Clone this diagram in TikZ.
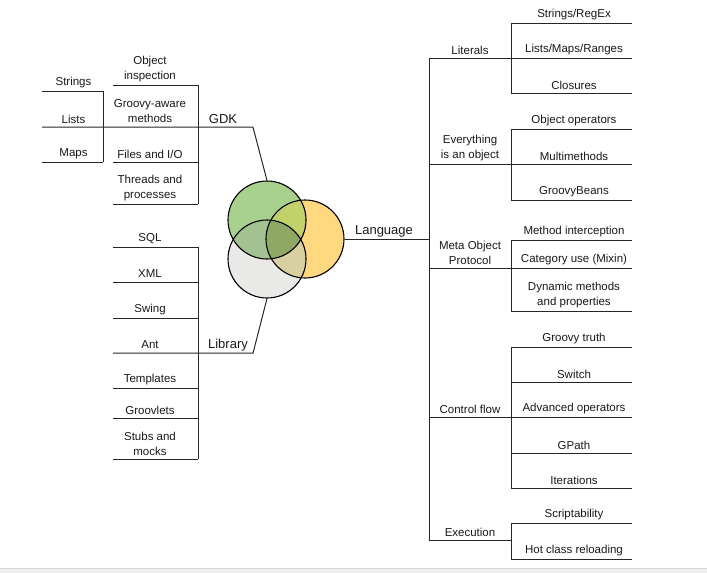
\documentclass[tikz,border=0pt]{standalone}
\usepackage{fontspec}
\setmainfont{Liberation Sans}

\definecolor{cgreen}{RGB}{169,209,142}
\definecolor{corange}{RGB}{255,216,128}
\definecolor{cgray}{RGB}{233,233,232}
\definecolor{cgo}{RGB}{194,210,106}
\definecolor{cgg}{RGB}{163,194,146}
\definecolor{cog}{RGB}{216,208,160}
\definecolor{call}{RGB}{143,168,100}

\begin{document}
\begin{tikzpicture}[x=1pt, y=-1pt]
		\tikzset{it/.style={font=\fontsize{11.5}{15}\selectfont, text=black!90, align=center, inner sep=0, minimum height=16, yshift=-2},
			it2/.style={it, minimum height=31},
			hd/.style={it, font=\fontsize{13}{15}\selectfont},
			ln/.style={draw=black!85, line width=1pt},
			ring/.style={circle, draw=black, line width=1.1pt, minimum size=78, inner sep=0}};

		\useasboundingbox (0,0) rectangle (707,573);
		\fill[black!6] (0,568) rectangle (707,573);
		\draw[black!15] (0,568) -- (707,568);

		% columns
		\coordinate (a1) at (42,0);
		\coordinate (a2) at (103,0);
		\coordinate (m1) at (113,0);
		\coordinate (m2) at (198,0);
		\coordinate (kn) at (253,0);
		\coordinate (l1) at (429,0);
		\coordinate (l2) at (511,0);
		\coordinate (l3) at (632,0);

		% circles
		\coordinate (cg) at (267,220);
		\coordinate (cy) at (267,259);
		\coordinate (co) at (305,239);
		\fill[cgray] (cy) circle (39);
		\fill[corange] (co) circle (39);
		\fill[cgreen] (cg) circle (39);
		\begin{scope}
			\clip (cg) circle (39);
			\fill[cgo] (co) circle (39);
			\fill[cgg] (cy) circle (39);
		\end{scope}
		\begin{scope}
			\clip (co) circle (39);
			\fill[cog] (cy) circle (39);
		\end{scope}
		\begin{scope}
			\clip (cg) circle (39);
			\clip (co) circle (39);
			\fill[call] (cy) circle (39);
		\end{scope}
		\node[ring] (gray) at (cy) {};
		\node[ring] (orange) at (co) {};
		\node[ring] (green) at (cg) {};

		% headings
		\node[hd] (gdk) at (223, 117) {GDK};
		\node[hd] (lib) at (228, 343) {Library};
		\node[hd] (lang) at (384, 229) {Language};

		% GDK
		\node[it] (str) at (73.5, 81) {Strings};
		\node[it] (lis) at (73.5, 117) {Lists};
		\node[it] (map) at (73.5, 152) {Maps};

		\node[it2] (oi) at (150, 67.5) {Object\\inspection};
		\node[it2] (gam) at (150, 109.5) {Groovy-aware\\methods};
		\node[it] (fio) at (150, 152) {Files and I/O};
		\node[it2] (tp) at (150, 186.5) {Threads and\\processes};

		% Library
		\node[it] (sql) at (150, 237) {SQL};
		\node[it] (xml) at (150, 272) {XML};
		\node[it] (swi) at (150, 308) {Swing};
		\node[it] (ant) at (150, 343) {Ant};
		\node[it] (tpl) at (150, 378) {Templates};
		\node[it] (grl) at (150, 408) {Groovlets};
		\node[it2] (sm) at (150, 441.5) {Stubs and\\mocks};

		% Language
		\node[it] (lit) at (470, 48) {Literals};
		\node[it2] (eao) at (470, 146.5) {Everything\\is an object};
		\node[it2] (mop) at (470, 250.5) {Meta Object\\Protocol};
		\node[it] (cf) at (470, 407) {Control flow};
		\node[it] (exe) at (470, 530) {Execution};

		\node[it] (sre) at (574, 13) {Strings/RegEx};
		\node[it] (lmr) at (574, 48) {Lists/Maps/Ranges};
		\node[it] (clo) at (574, 83) {Closures};

		\node[it] (oo) at (574, 119) {Object operators};
		\node[it] (mm) at (574, 154) {Multimethods};
		\node[it] (gb) at (574, 190) {GroovyBeans};

		\node[it] (mi) at (574, 230) {Method interception};
		\node[it] (cu) at (574, 258) {Category use (Mixin)};
		\node[it2] (dm) at (574, 293.5) {Dynamic methods\\and properties};

		\node[it] (gt) at (574, 337) {Groovy truth};
		\node[it] (sw) at (574, 372) {Switch};
		\node[it] (ao) at (574, 407) {Advanced operators};
		\node[it] (gp) at (574, 443) {GPath};
		\node[it] (itr) at (574, 478) {Iterations};

		\node[it] (scr) at (574, 513) {Scriptability};
		\node[it] (hcr) at (574, 549) {Hot class reloading};

		% GDK lines
		\draw[ln] (str.south -| a1) -- (str.south -| a2);
		\draw[ln] (map.south -| a1) -- (map.south -| a2);
		\draw[ln] (str.south -| a2) -- (map.south -| a2);
		\draw[ln] (lis.south -| a1) -- (gdk.south -| kn) -- (green.north);

		\draw[ln] (oi.south -| m1) -- (oi.south -| m2);
		\draw[ln] (fio.south -| m1) -- (fio.south -| m2);
		\draw[ln] (tp.south -| m1) -- (tp.south -| m2);
		\draw[ln] (oi.south -| m2) -- (tp.south -| m2);

		% Library lines
		\draw[ln] (sql.south -| m1) -- (sql.south -| m2);
		\draw[ln] (xml.south -| m1) -- (xml.south -| m2);
		\draw[ln] (swi.south -| m1) -- (swi.south -| m2);
		\draw[ln] (ant.south -| m1) -- (lib.south -| kn) -- (gray.south);
		\draw[ln] (tpl.south -| m1) -- (tpl.south -| m2);
		\draw[ln] (grl.south -| m1) -- (grl.south -| m2);
		\draw[ln] (sm.south -| m1) -- (sm.south -| m2);
		\draw[ln] (sql.south -| m2) -- (sm.south -| m2);

		% Language lines
		\draw[ln] (orange.east) -- (orange.east -| l1);
		\draw[ln] (lit.south -| l1) -- (exe.south -| l1);

		\draw[ln] (lit.south -| l1) -- (lit.south -| l2);
		\draw[ln] (eao.south -| l1) -- (eao.south -| l2);
		\draw[ln] (mop.south -| l1) -- (mop.south -| l2);
		\draw[ln] (cf.south -| l1) -- (cf.south -| l2);
		\draw[ln] (exe.south -| l1) -- (exe.south -| l2);

		\draw[ln] (sre.south -| l2) -- (sre.south -| l3);
		\draw[ln] (lmr.south -| l2) -- (lmr.south -| l3);
		\draw[ln] (clo.south -| l2) -- (clo.south -| l3);
		\draw[ln] (sre.south -| l2) -- (clo.south -| l2);

		\draw[ln] (oo.south -| l2) -- (oo.south -| l3);
		\draw[ln] (mm.south -| l2) -- (mm.south -| l3);
		\draw[ln] (gb.south -| l2) -- (gb.south -| l3);
		\draw[ln] (oo.south -| l2) -- (gb.south -| l2);

		\draw[ln] (mi.south -| l2) -- (mi.south -| l3);
		\draw[ln] (cu.south -| l2) -- (cu.south -| l3);
		\draw[ln] (dm.south -| l2) -- (dm.south -| l3);
		\draw[ln] (mi.south -| l2) -- (dm.south -| l2);

		\draw[ln] (gt.south -| l2) -- (gt.south -| l3);
		\draw[ln] (sw.south -| l2) -- (sw.south -| l3);
		\draw[ln] (ao.south -| l2) -- (ao.south -| l3);
		\draw[ln] (gp.south -| l2) -- (gp.south -| l3);
		\draw[ln] (itr.south -| l2) -- (itr.south -| l3);
		\draw[ln] (gt.south -| l2) -- (itr.south -| l2);

		\draw[ln] (scr.south -| l2) -- (scr.south -| l3);
		\draw[ln] (hcr.south -| l2) -- (hcr.south -| l3);
		\draw[ln] (scr.south -| l2) -- (hcr.south -| l2);
	\end{tikzpicture}
\end{document}
